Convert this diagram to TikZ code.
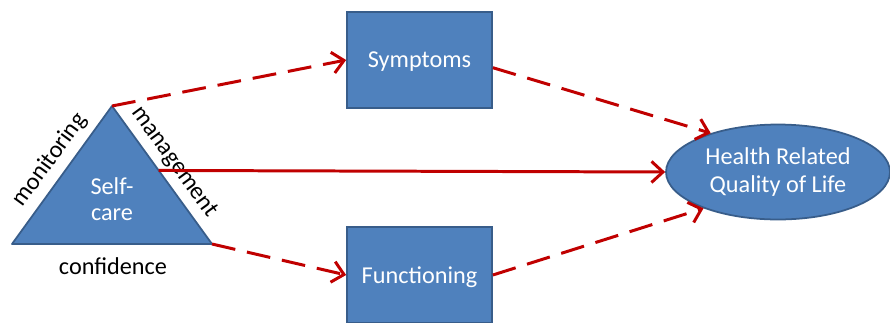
\documentclass[tikz,border=0pt]{standalone}
\usepackage{fontspec}
\setmainfont{Carlito}
\usetikzlibrary{arrows.meta, positioning, shapes.geometric, calc}
\definecolor{boxblue}{HTML}{4F81BD}
\definecolor{boxedge}{HTML}{385D8A}
\definecolor{linkred}{HTML}{C00000}
\tikzset{
  box/.style={draw=boxedge, fill=boxblue, line width=1pt, minimum width=2.9cm, minimum height=1.92cm, text depth=0pt, text=white, font=\fontsize{13.8}{16}\selectfont},
  outcome/.style={ellipse, draw=boxedge, fill=boxblue, line width=1pt, minimum width=4.48cm, minimum height=1.9cm, inner sep=0pt, text=white, align=center, font=\fontsize{13.8}{16.2}\selectfont},
  side/.style={text=black, inner sep=0pt, font=\fontsize{13.8}{16}\selectfont},
  link/.style={draw=linkred, line width=1.7pt, -{Straight Barb[length=6.5pt, width=12pt]}},
  linkdash/.style={link, dash pattern=on 13.6pt off 6.8pt}
}

\begin{document}
\begin{tikzpicture}[x=0.02cm, y=-0.02cm]
  \useasboundingbox (0,0) rectangle (890,322);
  % self-care triangle
  \coordinate (apex) at (112,106);
  \coordinate (bl) at (12,244);
  \coordinate (br) at (212,244);
  \draw[draw=boxedge, fill=boxblue, line width=1pt, line join=round] (apex) -- (bl) -- (br) -- cycle;
  \node[text=white, align=center, inner sep=0pt, font=\fontsize{13.8}{14.8}\selectfont] (self) at (112,199) {Self-\\care};
  \node[side, rotate=54] (mon) at (50,160) {monitoring};
  \node[side, rotate=-54] (man) at (174,162) {management};
  \node[side] (conf) at (113,266) {confidence};

  \node[box] (sym) at (419.5,60) {Symptoms};
  \node[box] (fun) at (419.5,275) {Functioning};
  \node[outcome] (hqol) at (778,172) {Health Related\\Quality of Life};

  \coordinate (edge) at ($(apex)!0.467!(br)$);
  \draw[linkdash] (apex) -- (sym.west);
  \draw[linkdash] (br) -- (fun.west);
  \draw[link] (edge) -- (hqol.west);
  \draw[linkdash] (sym.-6) -- (hqol.150);
  \draw[linkdash] (fun.east) -- (hqol.206);
\end{tikzpicture}
\end{document}
